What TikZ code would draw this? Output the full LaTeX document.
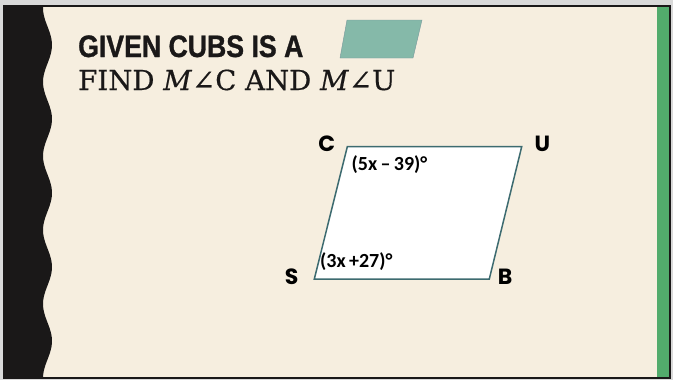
\documentclass[tikz,border=0pt]{standalone}
\usepackage{fontspec}
\usepackage{tikz}
\usetikzlibrary{positioning}
\newfontfamily\headfont[FakeStretch=0.86,FakeBold=1]{Liberation Sans}
\newfontfamily\serfont[FakeBold=0.5]{DejaVu Serif}
\newfontfamily\vertfont{Poppins}
\newfontfamily\angfont{Carlito}
\definecolor{paper}{HTML}{F6EEDF}
\definecolor{ink}{HTML}{1A1818}
\definecolor{stripe}{HTML}{52AB6C}
\definecolor{tealfill}{HTML}{85B9A9}
\definecolor{tealline}{HTML}{3D6B70}

\begin{document}
\begin{tikzpicture}[
  x=1pt, y=-1pt,
  vert/.style={font=\vertfont\bfseries\fontsize{22}{22}\selectfont, inner sep=0pt},
  angl/.style={font=\angfont\bfseries\fontsize{20}{20}\selectfont, inner sep=0pt, anchor=west},
  side/.style={draw=tealline, line width=1.5pt, line join=miter}
]
\useasboundingbox (0,0) rectangle (673,380);
% slide background
\fill[white!85!black] (0,0) rectangle (673,380);
\fill[paper] (4,6) rectangle (670,378);
\fill[ink] (4,6) -- (43,6)
  -- plot[domain=6:378, samples=120] ({47.5-4.5*cos((\x-8)/74*360)}, \x)
  -- (4,378) -- cycle;
\fill[stripe] (657,6) rectangle (669,378);
\draw[ink, line width=1.6pt] (4,6) rectangle (670,378);

% title
\node[anchor=base west, inner sep=0pt, text=ink,
      font=\headfont\bfseries\fontsize{31}{31}\selectfont] (head1) at (78,57) {GIVEN CUBS IS A};
\node[anchor=base west, inner sep=0pt, text=ink,
      font=\serfont\fontsize{27.6}{27.6}\selectfont] (head2) at (78,90) {FIND \textit{M}∠C AND \textit{M}∠U};
\fill[tealfill, draw=tealline!70, line width=0.4pt]
  (347,20) -- (422,20) -- (413,58) -- (340,58) -- cycle;

% parallelogram CUBS
\coordinate (c) at (347.3,146.7);
\coordinate (u) at (521.7,146.7);
\coordinate (b) at (489.3,279);
\coordinate (s) at (314.3,279);
\filldraw[side, fill=white] (c) -- (u) -- (b) -- (s) -- cycle;

\node[vert] (lc) at (326.7,144) {C};
\node[vert] (lu) at (542.3,144) {U};
\node[vert] (lb) at (505,276.7) {B};
\node[vert] (ls) at (291.7,276.7) {S};
\node[angl] (ac) at (351.5,164.3) {(5x\,–\,39)°};
\node[angl] (as) at (320,261.7) {(3x\,+27)°};
\end{tikzpicture}
\end{document}
